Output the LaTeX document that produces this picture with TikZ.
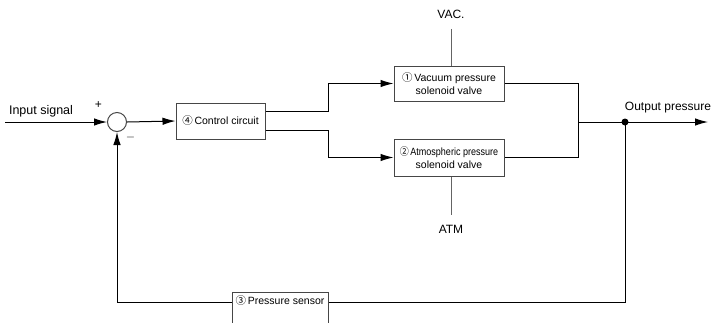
\documentclass[tikz,border=0pt]{standalone}
\usepackage{fontspec}
\setmainfont{Liberation Sans}
\newfontfamily\circfont{Noto Sans CJK JP}
\usetikzlibrary{arrows.meta}
\definecolor{linegray}{RGB}{70,70,70}
\definecolor{stemgray}{RGB}{100,100,100}
\newcommand{\cnum}[1]{{\circfont\fontsize{10.5}{10}\selectfont #1}\,}

\begin{document}
\begin{tikzpicture}[x=1pt,y=-1pt,>={Latex[length=13pt,width=7.5pt]},line width=1pt]
\tikzstyle{blockbox}=[draw=linegray,rectangle,inner sep=2pt,align=center,font=\fontsize{10.5}{13}\selectfont]
\tikzstyle{lbl}=[font=\fontsize{12}{14}\selectfont,inner sep=0pt]
\clip (0,0) rectangle (719,322);
\node[draw=linegray,circle,minimum size=19pt,inner sep=0pt] (sum) at (117,122) {};
\node[blockbox,minimum width=89pt,minimum height=36pt] (ctrl) at (220.5,121) {\cnum{④}Control circuit};
\node[blockbox,minimum width=110pt,minimum height=35pt] (vac) at (449,83.5) {\cnum{①}Vacuum pressure\\solenoid valve};
\node[blockbox,minimum width=110pt,minimum height=37pt] (atm) at (449,157.5) {\scalebox{0.86}[1]{\cnum{②}Atmospheric pressure}\\solenoid valve};
\node[blockbox,anchor=mid,text height=8pt,text depth=25pt,inner ysep=4.3pt,minimum width=96pt] (sensor) at (280,302) {\cnum{③}Pressure sensor};
\node[lbl,font=\fontsize{12.5}{14}\selectfont] (inlbl) at (41,111) {Input signal};
\node[lbl] (plus) at (98.5,105) {+};
\node[lbl] (minus) at (130.5,137) {$-$};
\node[lbl] (vaclbl) at (451,14) {VAC.};
\node[lbl] (atmlbl) at (451,229.5) {ATM};
\node[lbl] (outlbl) at (668,107.5) {Output pressure};
\coordinate (in) at (5,122);
\coordinate (merge) at (578,122);
\coordinate (tap) at (625,122);
\coordinate (out) at (708,122);
\draw[->] (in) -- (sum.west);
\draw[->] (sum.east) -- (ctrl.west);
\draw[->] ([yshift=9.5pt]ctrl.east) -- ++(63,0) |- (vac.west);
\draw[->] ([yshift=-9.5pt]ctrl.east) -- ++(63,0) |- (atm.west);
\draw[stemgray] ([yshift=-10pt]vaclbl.south) -- (vaclbl.south |- vac.north);
\draw[stemgray] (vaclbl.south |- atm.south) -- ([yshift=10pt]atmlbl.north);
\draw (vac.east) -- ++(74,0) |- (atm.east);
\draw[->] (merge) -- (out);
\fill (tap) circle (3.5);
\draw (tap) |- (sensor.mid east);
\draw[->] (sensor.mid west) -| (sum.south);
\end{tikzpicture}
\end{document}
